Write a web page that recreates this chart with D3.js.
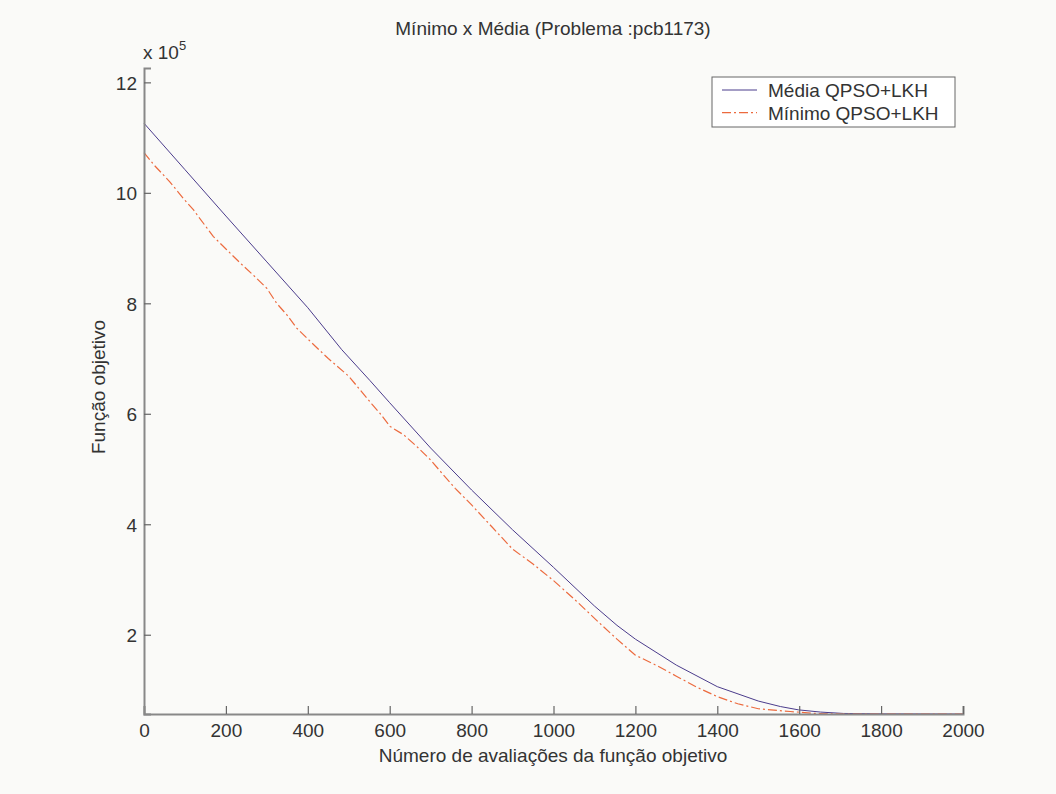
<!DOCTYPE html>
<html><head><meta charset="utf-8">
<script src="https://cdn.jsdelivr.net/npm/d3@7"></script>
<style>
body{margin:0;background:#fafaf8;}
svg{display:block;font-family:"Liberation Sans",Arial,sans-serif;}
</style></head>
<body><svg id="c" width="1056" height="794"></svg>
<script>
const titleText = "Mínimo x Média (Problema :pcb1173)";
const xLabel = "Número de avaliações da função objetivo";
const yLabel = "Função objetivo";
const seriesNames = ["Média QPSO+LKH", "Mínimo QPSO+LKH"];
const xTicks = [0,200,400,600,800,1000,1200,1400,1600,1800,2000];
const yTicks = [2,4,6,8,10,12];

const mediaX = [0,100,200,300,400,483,552,600,700,800,900,1000,1100,1155,1200,1300,1400,1500,1554,1598,1652,1708,1800,1900,2000];
const mediaY = [11.26,10.42,9.58,8.75,7.92,7.16,6.60,6.20,5.38,4.62,3.90,3.22,2.52,2.17,1.92,1.45,1.06,0.80,0.70,0.64,0.60,0.575,0.568,0.566,0.565];

const minX = [0,25,63,96,121,169,202,235,267,300,324,349,373,406,450,500,556,576,601,634,666,699,727,760,800,850,900,950,1000,1050,1114,1155,1200,1250,1300,1350,1400,1450,1500,1578,1650,1700,1800,1900,2000];
const minY = [10.73,10.50,10.20,9.90,9.69,9.21,8.97,8.73,8.51,8.27,8.00,7.79,7.55,7.31,7.00,6.68,6.18,6.01,5.77,5.62,5.41,5.17,4.93,4.65,4.35,3.95,3.55,3.28,2.98,2.65,2.20,1.92,1.63,1.45,1.25,1.05,0.88,0.75,0.66,0.61,0.57,0.565,0.565,0.565,0.565];

const svg = d3.select("#c");
const x = d3.scaleLinear().domain([0,2000]).range([144,963]);
const y = d3.scaleLinear().domain([0.565,12.26]).range([714,68]);

const axisColor = "#888";
const textColor = "#333";
const fs = 19;

// lines
const line = d3.line().x(d=>x(d[0])).y(d=>y(d[1]));
const mediaData = mediaX.map((v,i)=>[v,mediaY[i]]);
const minData = minX.map((v,i)=>[v,minY[i]]);
svg.append("path").datum(mediaData).attr("d",line).attr("fill","none")
  .attr("stroke","#4b3c8c").attr("stroke-width",1);
svg.append("path").datum(minData).attr("d",line).attr("fill","none")
  .attr("stroke","#ec6a3e").attr("stroke-width",1.2).attr("stroke-dasharray","9,3,2,3");

// axes
const xa = svg.append("g").attr("transform","translate(0,714)")
  .call(d3.axisBottom(x).tickValues(xTicks).tickSize(-8).tickPadding(10).tickFormat(d3.format("d")));
const ya = svg.append("g").attr("transform","translate(144,0)")
  .call(d3.axisLeft(y).tickValues(yTicks).tickSize(-7).tickPadding(7).tickFormat(d3.format("d")));
[xa,ya].forEach(a=>{
  a.select(".domain").attr("stroke",axisColor).attr("stroke-width",2);
  a.selectAll(".tick line").attr("stroke","#666").attr("stroke-width",1.2);
  a.selectAll(".tick text").attr("fill",textColor).attr("font-size",fs)
   .attr("font-family","'Liberation Sans',Arial,sans-serif");
});
ya.selectAll(".tick text").attr("dy","0.36em");
xa.selectAll(".tick text").attr("dy","0.71em");

// exponent
const ex = svg.append("text").attr("x",143).attr("y",59).attr("fill",textColor).attr("font-size",fs);
ex.append("tspan").text("x 10");
ex.append("tspan").attr("font-size",13).attr("dy",-9).text("5");

// title & labels
svg.append("text").attr("x",553).attr("y",35).attr("text-anchor","middle").attr("fill",textColor)
  .attr("font-size",fs).text(titleText);
svg.append("text").attr("x",553).attr("y",762).attr("text-anchor","middle").attr("fill",textColor)
  .attr("font-size",fs).text(xLabel);
svg.append("text").attr("transform","translate(105,387) rotate(-90)").attr("text-anchor","middle")
  .attr("fill",textColor).attr("font-size",fs).text(yLabel);

// legend
const lg = svg.append("g");
lg.append("rect").attr("x",712).attr("y",77).attr("width",243).attr("height",50)
  .attr("fill","#fff").attr("stroke","#666").attr("stroke-width",1);
const styles = [{c:"#4b3c8c",d:null,w:1},{c:"#ec6a3e",d:"9,3,2,3",w:1.2}];
seriesNames.forEach((n,i)=>{
  const yy = 90 + i*22.7;
  lg.append("line").attr("x1",722).attr("x2",757).attr("y1",yy).attr("y2",yy)
    .attr("stroke",styles[i].c).attr("stroke-width",styles[i].w).attr("stroke-dasharray",styles[i].d);
  lg.append("text").attr("x",768).attr("y",yy).attr("dy","0.36em").attr("fill",textColor)
    .attr("font-size",fs).text(n);
});
</script></body></html>
